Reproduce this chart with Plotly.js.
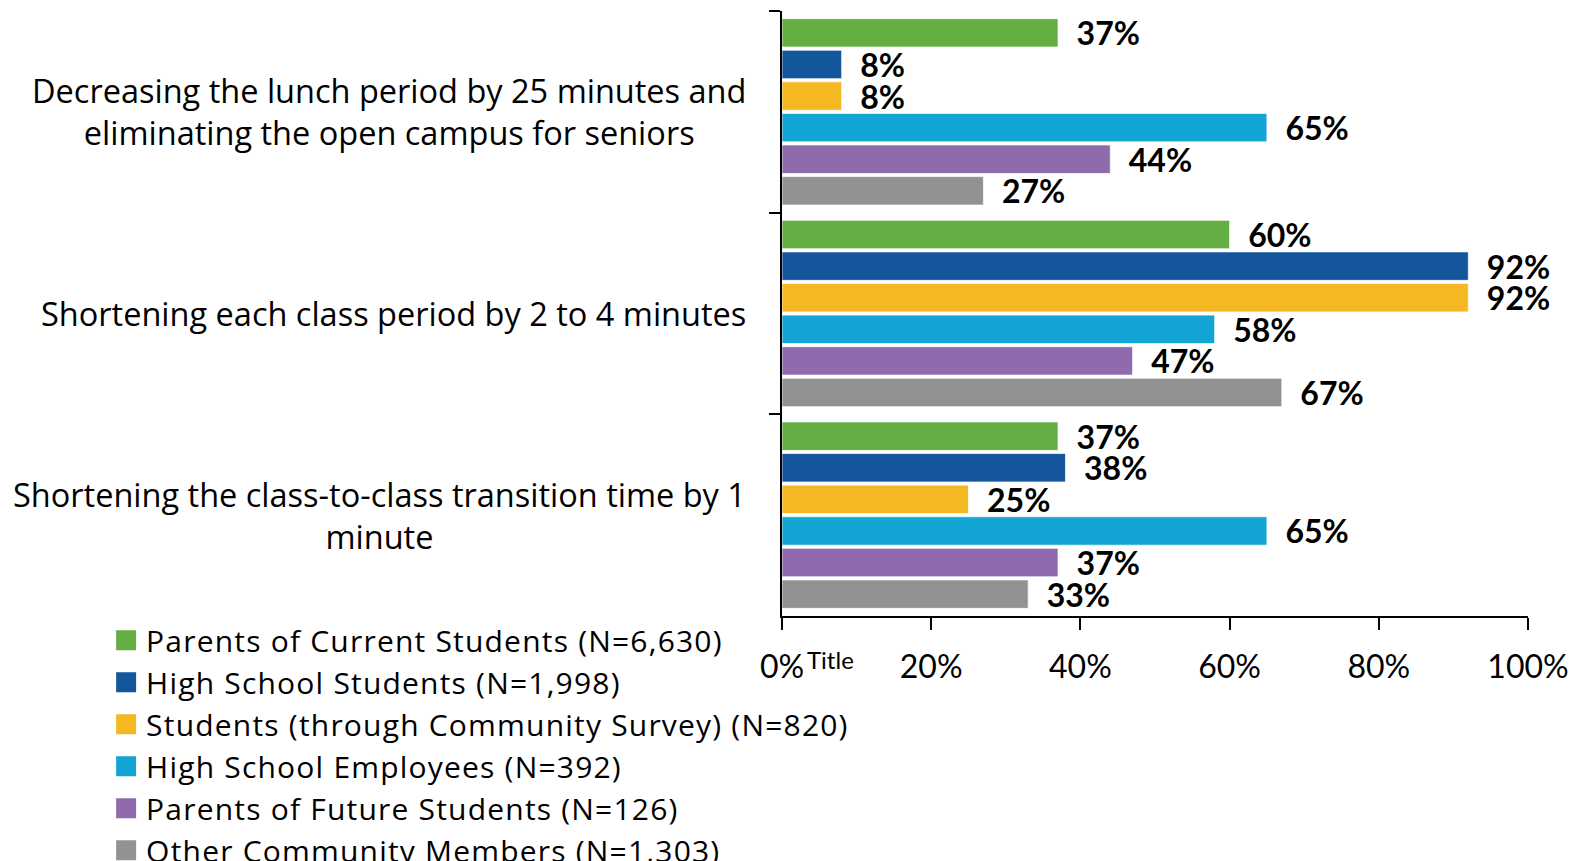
<!DOCTYPE html>
<html>
<head>
<meta charset="utf-8">
<script src="https://cdn.plot.ly/plotly-3.0.1.min.js"></script>
<style>
  html, body { margin: 0; padding: 0; background: #ffffff; }
  #chart { width: 1582px; height: 861px; }
  .legendtext { letter-spacing: 1.2px; }
</style>
</head>
<body>
<div id="chart"></div>
<script>
// ---- data ----
const categories = [
  "Decreasing the lunch period by 25 minutes and<br>eliminating the open campus for seniors",
  "Shortening each class period by 2 to 4 minutes",
  "Shortening the class-to-class transition time by 1<br>minute"
];
const seriesNames = [
  "Parents of Current Students (N=6,630)",
  "High School Students (N=1,998)",
  "Students (through Community Survey) (N=820)",
  "High School Employees (N=392)",
  "Parents of Future Students (N=126)",
  "Other Community Members (N=1,303)"
];
const parentsCurrent    = [37, 60, 37];
const hsStudents        = [8, 92, 38];
const studentsCommunity = [8, 92, 25];
const hsEmployees       = [65, 58, 65];
const parentsFuture     = [44, 47, 37];
const otherCommunity    = [27, 67, 33];
const seriesValues = [parentsCurrent, hsStudents, studentsCommunity, hsEmployees, parentsFuture, otherCommunity];
const colors = ["#65AE44", "#14569B", "#F4B823", "#13A5D4", "#8F6AAD", "#929292"];
const xTickVals = [0, 20, 40, 60, 80, 100];
const xTickText = ["0%", "20%", "40%", "60%", "80%", "100%"];
const axisTitleText = "Title";

const FONT = "Lato, 'Open Sans', sans-serif";
const FONT2 = "'Open Sans', Lato, sans-serif";

const traces = [];
seriesValues.forEach((vals, i) => {
  traces.push({
    type: "bar",
    orientation: "h",
    name: seriesNames[i],
    y: categories,
    x: vals,
    marker: { color: colors[i], line: { color: "rgba(255,255,255,0.7)", width: 1 } },
    text: vals.map(v => v + "%"),
    texttemplate: "\u00a0\u00a0%{text}",
    textposition: "outside",
    constraintext: "none",
    cliponaxis: false,
    outsidetextfont: { family: FONT, size: 32, color: "#000000", weight: "bold" },
    hoverinfo: "x+name",
    showlegend: false
  });
});
// legend entries (square swatches)
seriesNames.forEach((n, i) => {
  traces.push({
    type: "scatter",
    mode: "markers",
    name: n,
    x: [null],
    y: [null],
    marker: { symbol: "square", size: 16, color: colors[i], line: { color: colors[i], width: 4 } },
    showlegend: true,
    hoverinfo: "skip"
  });
});

const annotations = categories.map(c => ({
  xref: "paper", yref: "y",
  x: 0, y: c,
  xanchor: "right", yanchor: "middle",
  xshift: -34,
  align: "center",
  showarrow: false,
  text: c,
  font: { family: FONT2, size: 32.5, color: "#000000" }
}));
annotations.push({
  xref: "paper", yref: "paper",
  x: 0.065, y: -0.072,
  xanchor: "center", yanchor: "middle",
  showarrow: false,
  text: axisTitleText,
  font: { family: FONT, size: 24, color: "#000000" }
});

const layout = {
  width: 1582,
  height: 861,
  margin: { l: 782, r: 54, t: 11, b: 245, pad: 0, autoexpand: false },
  paper_bgcolor: "#ffffff",
  plot_bgcolor: "#ffffff",
  barmode: "group",
  bargap: 0.06,
  bargroupgap: 0.1,
  font: { family: FONT, color: "#000000" },
  xaxis: {
    range: [0, 100],
    tickmode: "array",
    tickvals: xTickVals,
    ticktext: xTickText,
    showgrid: false,
    zeroline: false,
    showline: true,
    linecolor: "#000000",
    linewidth: 2,
    ticks: "outside",
    ticklen: 12,
    tickwidth: 2,
    tickcolor: "#000000",
    ticklabelstandoff: 10,
    tickfont: { family: FONT, size: 32, color: "#000000" }
  },
  yaxis: {
    type: "category",
    autorange: "reversed",
    showgrid: false,
    zeroline: false,
    showline: true,
    linecolor: "#000000",
    linewidth: 2,
    ticks: "outside",
    tickson: "boundaries",
    ticklen: 11,
    tickwidth: 2,
    tickcolor: "#000000",
    showticklabels: false
  },
  legend: {
    x: -0.906, xanchor: "left",
    y: 0.003, yanchor: "top",
    traceorder: "normal",
    font: { family: FONT2, size: 30, color: "#000000" },
    bgcolor: "rgba(0,0,0,0)",
    borderwidth: 0
  },
  annotations: annotations,
  showlegend: true
};

Plotly.newPlot("chart", traces, layout, { displayModeBar: false, staticPlot: true });
</script>
</body>
</html>
